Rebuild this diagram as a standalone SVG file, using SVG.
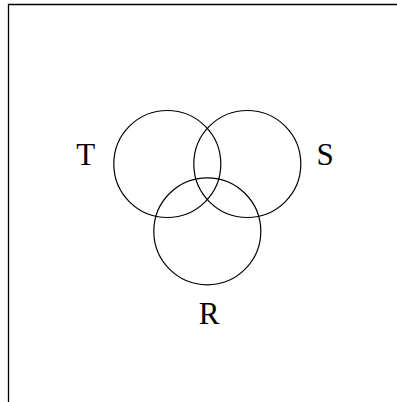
<svg xmlns="http://www.w3.org/2000/svg" width="397" height="402" viewBox="0 0 397 402">
<style>
.c{fill:none;stroke:#000;stroke-width:1.2}
.t{font-family:"Liberation Serif","Times New Roman",serif;font-size:31px;fill:#000;text-anchor:middle}
.f{fill:none;stroke:#000;stroke-width:1.3}
</style>
<rect width="397" height="402" fill="#fff"/>
<path class="f" d="M8.5,402 V4.5 H397"/>
<g id="T"><circle class="c" cx="167.3" cy="164" r="53.5"/><text class="t" x="85.7" y="165">T</text></g>
<g id="S"><circle class="c" cx="247.3" cy="164" r="53.5"/><text class="t" x="325" y="165">S</text></g>
<g id="R"><circle class="c" cx="207.3" cy="231.3" r="53.5"/><text class="t" x="209" y="324">R</text></g>
<g id="connectors"></g>
</svg>
